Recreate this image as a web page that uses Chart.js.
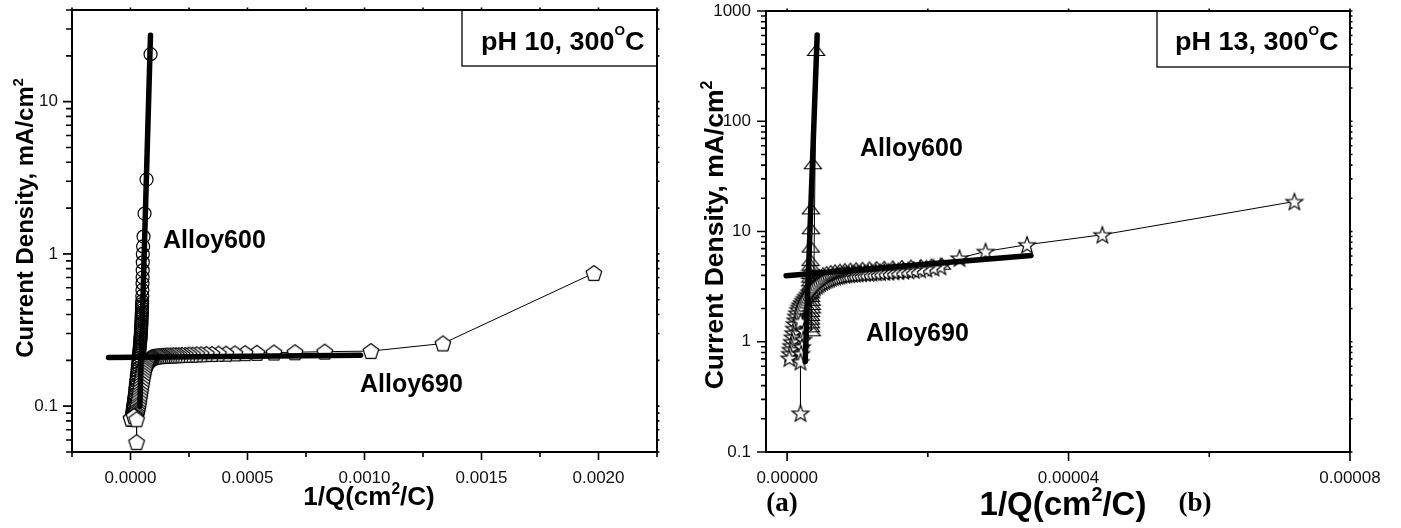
<!DOCTYPE html>
<html>
<head>
<meta charset="utf-8">
<script src="https://cdn.jsdelivr.net/npm/chart.js@4.4.0/dist/chart.umd.min.js"></script>
<style>
  html, body { margin: 0; padding: 0; background: #fff; }
  #wrap { position: relative; width: 1401px; height: 528px; overflow: hidden; }
  #pa { position: absolute; left: 0; top: 0; }
  #pb { position: absolute; left: 680px; top: 0; }
</style>
</head>
<body>
<div id="wrap">
  <canvas id="pa" width="680" height="528"></canvas>
  <canvas id="pb" width="721" height="528"></canvas>
</div>
<script>
// ---- panel (a): pH 10, 300C ----
const aCircleX = [0.0000857, 0.0000686, 0.0000600, 0.0000557, 0.0000540, 0.0000527, 0.0000525, 0.0000522, 0.0000518, 0.0000514,
  0.0000510, 0.0000505, 0.0000500, 0.0000497, 0.0000494, 0.0000491, 0.0000488, 0.0000484, 0.0000481, 0.0000477,
  0.0000474, 0.0000470, 0.0000466, 0.0000461, 0.0000457, 0.0000452, 0.0000447, 0.0000442, 0.0000436, 0.0000430,
  0.0000424, 0.0000417, 0.0000410, 0.0000403, 0.0000395, 0.0000387, 0.0000378, 0.0000369, 0.0000360, 0.0000350,
  0.0000340, 0.0000329, 0.0000318, 0.0000307, 0.0000295, 0.0000283, 0.0000270, 0.0000258, 0.0000245, 0.0000233,
  0.0000220, 0.0000208, 0.0000195, 0.0000183, 0.0000170, 0.0000158, 0.0000145, 0.0000133, 0.0000120, 0.0000108,
  0.0000095, 0.0000083, 0.0000070, 0.0000060, 0.0000050];
const aCircleY = [20.5, 3.08, 1.84, 1.30, 1.12, 1.00, 0.88, 0.78, 0.70, 0.64,
  0.58, 0.53, 0.49, 0.47, 0.455, 0.44, 0.425, 0.41, 0.40, 0.387,
  0.375, 0.362, 0.35, 0.34, 0.33, 0.32, 0.31, 0.30, 0.29, 0.282,
  0.275, 0.267, 0.26, 0.252, 0.245, 0.237, 0.23, 0.222, 0.215, 0.207,
  0.20, 0.192, 0.185, 0.177, 0.17, 0.163, 0.157, 0.151, 0.145, 0.139,
  0.134, 0.129, 0.124, 0.119, 0.115, 0.111, 0.107, 0.103, 0.100, 0.097,
  0.094, 0.091, 0.089, 0.087, 0.085];

const aPentX = [0.00198, 0.001335, 0.001027, 0.00083, 0.000703, 0.000613, 0.00054, 0.00049, 0.000446, 0.000408,
  0.000376, 0.000348, 0.000324, 0.000302, 0.000283, 0.000265, 0.000249, 0.000234, 0.000220, 0.000207,
  0.000195, 0.000183, 0.000172, 0.000162, 0.000152, 0.000143, 0.000134, 0.000126, 0.000118, 0.000110,
  0.000103, 0.000096, 0.000092, 0.000089, 0.000086, 0.000083, 0.000080, 0.000077, 0.000074, 0.000071,
  0.0000685, 0.000066, 0.0000635, 0.000061, 0.000059, 0.000057, 0.000055, 0.000053, 0.000051, 0.000049,
  0.000047, 0.000045, 0.000043, 0.000041, 0.000039, 0.000037, 0.000035, 0.000033, 0.000031, 0.000029,
  0.000027, 0.000025, 0.0000225, 0.000020, 0.000017, 0.000014, 0.000011, 0.000008, 0.000005, 0.000002,
  0.000015, 0.000026, 0.000026];
const aPentY = [0.748, 0.258, 0.230, 0.228, 0.226, 0.225, 0.224, 0.223, 0.222, 0.221,
  0.221, 0.220, 0.220, 0.219, 0.219, 0.218, 0.218, 0.217, 0.217, 0.216,
  0.216, 0.216, 0.215, 0.215, 0.215, 0.214, 0.214, 0.213, 0.213, 0.212,
  0.211, 0.210, 0.209, 0.208, 0.207, 0.205, 0.203, 0.201, 0.198, 0.195,
  0.191, 0.187, 0.182, 0.177, 0.172, 0.166, 0.160, 0.154, 0.148, 0.142,
  0.136, 0.130, 0.124, 0.119, 0.114, 0.109, 0.104, 0.100, 0.096, 0.093,
  0.090, 0.088, 0.086, 0.085, 0.084, 0.084, 0.083, 0.083, 0.083, 0.083,
  0.086, 0.082, 0.058];

const aFit600X = [0.0000399, 0.0000854];
const aFit600Y = [0.10, 27.3];
const aFit690X = [-0.000094, 0.000983];
const aFit690Y = [0.209, 0.216];

const aXTicks = [-0.00025, 0, 0.00025, 0.0005, 0.00075, 0.001, 0.00125, 0.0015, 0.00175, 0.002, 0.00225];
const aXLabels = ['', '0.0000', '', '0.0005', '', '0.0010', '', '0.0015', '', '0.0020', ''];
const aYTicks = [0.05, 0.06, 0.07, 0.08, 0.09, 0.1, 0.2, 0.3, 0.4, 0.5, 0.6, 0.7, 0.8, 0.9,
  1, 2, 3, 4, 5, 6, 7, 8, 9, 10, 20, 30, 40];
const aYLabels = aYTicks.map(v => (v === 0.1 ? '0.1' : v === 1 ? '1' : v === 10 ? '10' : ''));

// ---- panel (b): pH 13, 300C ----
const bTriX = [0.000022, 0.0000205, 0.000019, 0.0000176, 0.0000163, 0.000015, 0.0000138, 0.0000127, 0.0000117, 0.0000107,
  0.0000098, 0.000009, 0.0000082, 0.0000075, 0.0000068, 0.0000062, 0.0000056, 0.0000051, 0.0000046, 0.0000042, 0.0000038,
  0.00000413, 0.00000366, 0.00000337, 0.00000337, 0.00000335, 0.00000333, 0.00000332, 0.00000331, 0.0000033, 0.0000033,
  0.0000033, 0.0000033, 0.0000033, 0.0000034, 0.0000034, 0.0000035, 0.0000035, 0.0000035, 0.0000034, 0.0000034,
  0.0000034, 0.0000034, 0.0000034, 0.0000035];
const bTriY = [5.1, 5.0, 4.95, 4.9, 4.86, 4.82, 4.78, 4.75, 4.72, 4.68,
  4.64, 4.6, 4.55, 4.5, 4.44, 4.37, 4.28, 4.17, 4.03, 3.85, 3.6,
  443, 41.6, 16.2, 10.7, 7.3, 5.5, 5.0, 4.6, 4.2, 3.9,
  3.6, 3.3, 3.05, 2.8, 2.6, 2.4, 2.2, 2.05, 1.9, 1.75,
  1.62, 1.5, 1.38, 1.27, 1.17, 1.08, 1.0].slice(0, 45);

const bStarX = [0.0000721, 0.0000448, 0.0000341, 0.0000282, 0.0000245, 0.0000218, 0.0000208, 0.0000198, 0.0000189, 0.000018,
  0.0000172, 0.0000165, 0.0000158, 0.0000151, 0.0000144, 0.0000138, 0.0000132, 0.0000126, 0.000012, 0.0000115,
  0.000011, 0.0000105, 0.00001, 0.0000096, 0.0000092, 0.0000088, 0.0000084, 0.0000081, 0.0000077, 0.0000074,
  0.0000071, 0.0000068, 0.0000065, 0.0000062, 0.00000595, 0.0000057, 0.00000545, 0.0000052, 0.00000495, 0.0000047,
  0.00000445, 0.0000042, 0.00000395, 0.0000037, 0.00000345, 0.0000032, 0.00000295, 0.0000027, 0.0000025, 0.0000023,
  0.0000021, 0.0000019, 0.00000175, 0.0000016, 0.00000145, 0.0000013, 0.0000012, 0.0000011, 0.000001, 0.0000009,
  0.0000008, 0.0000007, 0.0000006, 0.0000005, 0.00000042, 0.00000033, 0.0000019, 0.0000024, 0.0000023, 0.0000021,
  0.000002, 0.0000019, 0.0000019];
const bStarY = [18.7, 9.34, 7.59, 6.59, 5.74, 4.82, 4.7, 4.6, 4.54, 4.48,
  4.44, 4.4, 4.37, 4.35, 4.32, 4.3, 4.28, 4.26, 4.24, 4.22,
  4.2, 4.18, 4.16, 4.14, 4.12, 4.1, 4.08, 4.05, 4.02, 3.98,
  3.94, 3.9, 3.85, 3.8, 3.74, 3.68, 3.62, 3.55, 3.48, 3.4,
  3.31, 3.22, 3.12, 3.02, 2.91, 2.8, 2.68, 2.57, 2.46, 2.36,
  2.25, 2.15, 2.05, 1.95, 1.82, 1.7, 1.57, 1.45, 1.32, 1.2,
  1.1, 1.0, 0.92, 0.85, 0.78, 0.71, 1.53, 1.25, 1.05, 0.9,
  0.78, 0.66, 0.225];

const bFit600X = [0.00000256, 0.00000427];
const bFit600Y = [0.66, 605];
const bFit690X = [-0.00000014, 0.00003466];
const bFit690Y = [3.97, 6.07];

const bXTicks = [0, 0.00002, 0.00004, 0.00006, 0.00008];
const bXLabels = ['0.00000', '', '0.00004', '', '0.00008'];
const bYTicks = [0.1, 0.2, 0.3, 0.4, 0.5, 0.6, 0.7, 0.8, 0.9, 1, 2, 3, 4, 5, 6, 7, 8, 9,
  10, 20, 30, 40, 50, 60, 70, 80, 90, 100, 200, 300, 400, 500, 600, 700, 800, 900, 1000];
const bYLabels = bYTicks.map(v => ([0.1, 1, 10, 100, 1000].includes(v) ? String(v) : ''));

const SANS = "'Liberation Sans', Arial, Helvetica, sans-serif";
const SERIF = "'Liberation Serif', 'Times New Roman', serif";

function pts(xs, ys) {
  const n = Math.min(xs.length, ys.length);
  return xs.slice(0, n).map((x, i) => ({ x: x, y: ys[i] }));
}

// custom marker shapes
function marker(kind) {
  const c = document.createElement('canvas');
  const g = c.getContext('2d');
  if (kind === 'pentagon') {
    c.width = 20; c.height = 20;
  } else if (kind === 'star') {
    c.width = 22; c.height = 22;
  } else {
    c.width = 20; c.height = 16;
  }
  g.lineWidth = 1.2;
  g.strokeStyle = '#000';
  g.lineJoin = 'miter';
  g.beginPath();
  if (kind === 'pentagon') {
    for (let k = 0; k < 5; k++) {
      const a = -Math.PI / 2 + k * 2 * Math.PI / 5;
      const px = 10 + 8.2 * Math.cos(a), py = 10.8 + 8.2 * Math.sin(a);
      k ? g.lineTo(px, py) : g.moveTo(px, py);
    }
  } else if (kind === 'star') {
    for (let k = 0; k < 10; k++) {
      const a = -Math.PI / 2 + k * Math.PI / 5;
      const r = k % 2 ? 3.6 : 8.8;
      const px = 11 + r * Math.cos(a), py = 11.8 + r * Math.sin(a);
      k ? g.lineTo(px, py) : g.moveTo(px, py);
    }
  } else {
    g.moveTo(10, 2.5);
    g.lineTo(1.5, 13.5);
    g.lineTo(18.5, 13.5);
  }
  g.closePath();
  if (kind !== 'triangle') {
    g.fillStyle = '#fff';
    g.fill();
  }
  g.stroke();
  return c;
}

function drawRuns(ctx, it) {
  const supScale = it.supScale || 0.6;
  const sz = r => (r[1] ? it.size * supScale : it.size);
  const font = r => `${it.bold === false ? '' : 'bold '}${sz(r)}px ${it.family || SANS}`;
  let total = 0;
  it.runs.forEach(r => { ctx.font = font(r); total += ctx.measureText(r[0]).width; });
  ctx.save();
  ctx.translate(it.x, it.y);
  if (it.rot) ctx.rotate(it.rot * Math.PI / 180);
  ctx.scale(it.sx || 1, 1);
  let cx = it.align === 'center' ? -total / 2 : 0;
  ctx.fillStyle = '#000';
  ctx.textBaseline = 'alphabetic';
  ctx.textAlign = 'left';
  it.runs.forEach(r => {
    ctx.font = font(r);
    ctx.fillText(r[0], cx, r[1] ? -it.size * (it.supRaise || 0.42) : 0);
    cx += ctx.measureText(r[0]).width;
  });
  ctx.restore();
}

// frame, tick marks, boxes and labels
const deco = {
  id: 'deco',
  afterDraw(chart, args, o) {
    const { ctx, chartArea: a, scales: { x, y } } = chart;
    ctx.save();
    (o.boxes || []).forEach(b => {
      ctx.fillStyle = '#fff';
      ctx.fillRect(b.x, b.y, b.w, b.h);
      ctx.lineWidth = 1.3;
      ctx.strokeStyle = '#000';
      ctx.strokeRect(b.x, b.y, b.w, b.h);
    });
    ctx.strokeStyle = '#000';
    ctx.lineWidth = 1.6;
    ctx.beginPath();
    x.ticks.forEach(t => {
      const px = x.getPixelForValue(t.value);
      const len = t.label ? o.xMajor : o.xMinor;
      ctx.moveTo(px, a.bottom); ctx.lineTo(px, a.bottom + len);
      ctx.moveTo(px, a.top); ctx.lineTo(px, a.top - 2.5);
    });
    y.ticks.forEach(t => {
      const py = y.getPixelForValue(t.value);
      const len = t.label ? o.yMajor : o.yMinor;
      ctx.moveTo(a.left - len, py); ctx.lineTo(a.left, py);
      ctx.moveTo(a.right, py); ctx.lineTo(a.right + 2.5, py);
    });
    ctx.stroke();
    ctx.lineWidth = 2;
    ctx.strokeRect(a.left, a.top, a.right - a.left, a.bottom - a.top);
    (o.texts || []).forEach(it => drawRuns(ctx, it));
    ctx.restore();
  }
};

function fitSet(xs, ys) {
  return {
    data: pts(xs, ys), showLine: true, borderColor: '#000', borderWidth: 5.5,
    borderCapStyle: 'round', pointRadius: 0, order: 0
  };
}

function markSet(xs, ys, style, order, radius) {
  return {
    data: pts(xs, ys), showLine: true, borderColor: '#000', borderWidth: 1,
    pointStyle: style, pointRadius: radius || 7, pointBorderColor: '#000', pointBorderWidth: 1.2,
    pointBackgroundColor: 'rgba(0,0,0,0)', order: order
  };
}

function makeChart(id, cfg) {
  return new Chart(document.getElementById(id), {
    type: 'scatter',
    data: { datasets: cfg.datasets },
    options: {
      responsive: false,
      animation: false,
      events: [],
      layout: { padding: cfg.padding },
      plugins: { legend: { display: false }, tooltip: { enabled: false }, deco: cfg.deco },
      scales: {
        x: {
          type: 'linear', min: cfg.xMin, max: cfg.xMax,
          afterBuildTicks: s => { s.ticks = cfg.xTicks.map(v => ({ value: v })); },
          afterFit: s => { s.height = cfg.xHeight; s.paddingLeft = 0; s.paddingRight = 0; },
          grid: { display: false, drawTicks: false }, border: { display: false },
          ticks: {
            autoSkip: false, maxRotation: 0, padding: cfg.xPad, color: '#111',
            font: { family: SANS, size: 17 }, callback: (v, i) => cfg.xLabels[i]
          }
        },
        y: {
          type: 'logarithmic', min: cfg.yMin, max: cfg.yMax,
          afterBuildTicks: s => { s.ticks = cfg.yTicks.map(v => ({ value: v })); },
          afterFit: s => { s.width = cfg.yWidth; s.paddingTop = 0; s.paddingBottom = 0; },
          grid: { display: false, drawTicks: false }, border: { display: false },
          ticks: {
            autoSkip: false, padding: cfg.yPad, color: '#111',
            font: { family: SANS, size: 17 }, callback: (v, i) => cfg.yLabels[i]
          }
        }
      }
    },
    plugins: [deco]
  });
}

makeChart('pa', {
  datasets: [
    fitSet(aFit600X, aFit600Y),
    fitSet(aFit690X, aFit690Y),
    markSet(aPentX, aPentY, marker('pentagon'), 1),
    markSet(aCircleX, aCircleY, 'circle', 2, 6.5)
  ],
  padding: { top: 10, right: 23, left: 0, bottom: 0 },
  xMin: -0.00025, xMax: 0.00225, xTicks: aXTicks, xLabels: aXLabels, xHeight: 76, xPad: 16,
  yMin: 0.05, yMax: 40, yTicks: aYTicks, yLabels: aYLabels, yWidth: 72, yPad: 14,
  deco: {
    xMajor: 8, xMinor: 5, yMajor: 9, yMinor: 6,
    boxes: [{ x: 462, y: 10, w: 195, h: 56 }],
    texts: [
      { x: 33, y: 218, rot: -90, align: 'center', size: 24, runs: [['Current Density, mA/cm'], ['2', 1]] },
      { x: 369, y: 505, align: 'center', size: 26, runs: [['1/Q(cm'], ['2', 1], ['/C)']] },
      { x: 163, y: 248, size: 25, runs: [['Alloy600']] },
      { x: 360, y: 392, size: 25, runs: [['Alloy690']] },
      { x: 481, y: 50, size: 25, sx: 1.08, supScale: 0.5, supRaise: 0.6, runs: [['pH 10, 300'], ['O', 1], ['C']] }
    ]
  }
});

makeChart('pb', {
  datasets: [
    fitSet(bFit600X, bFit600Y),
    fitSet(bFit690X, bFit690Y),
    markSet(bStarX, bStarY, marker('star'), 1),
    markSet(bTriX, bTriY, marker('triangle'), 2)
  ],
  padding: { top: 11, right: 51, left: 0, bottom: 0 },
  xMin: -0.000003, xMax: 0.00008, xTicks: bXTicks, xLabels: bXLabels, xHeight: 76, xPad: 16,
  yMin: 0.1, yMax: 1000, yTicks: bYTicks, yLabels: bYLabels, yWidth: 86, yPad: 15,
  deco: {
    xMajor: 9, xMinor: 5, yMajor: 9, yMinor: 5,
    boxes: [{ x: 477, y: 11, w: 193, h: 56 }],
    texts: [
      { x: 43, y: 235, rot: -90, align: 'center', size: 26.5, runs: [['Current Density, mA/cm'], ['2', 1]] },
      { x: 383, y: 515, align: 'center', size: 33, runs: [['1/Q(cm'], ['2', 1], ['/C)']] },
      { x: 102, y: 511, align: 'center', size: 27, family: SERIF, runs: [['(a)']] },
      { x: 515, y: 511, align: 'center', size: 27, family: SERIF, runs: [['(b)']] },
      { x: 180, y: 156, size: 25, runs: [['Alloy600']] },
      { x: 186, y: 341, size: 25, runs: [['Alloy690']] },
      { x: 495, y: 50, size: 25, sx: 1.08, supScale: 0.5, supRaise: 0.6, runs: [['pH 13, 300'], ['O', 1], ['C']] }
    ]
  }
});
</script>
</body>
</html>
